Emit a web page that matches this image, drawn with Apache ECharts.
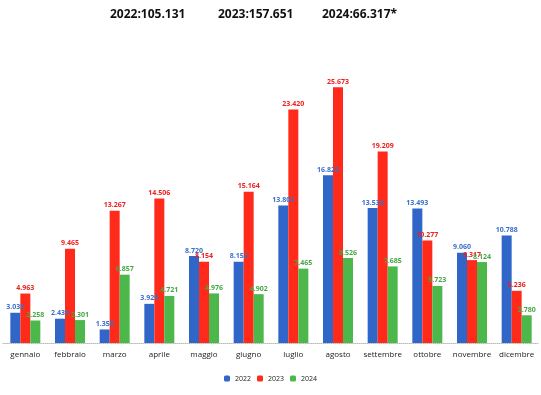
<!DOCTYPE html>
<html><head><meta charset="utf-8">
<script src="https://cdn.jsdelivr.net/npm/echarts@6/dist/echarts.min.js"></script>
<style>html,body{margin:0;padding:0;background:#fff}#c{width:541px;height:395px}</style>
</head><body><div id="c"></div>
<script>
const categories = ['gennaio','febbraio','marzo','aprile','maggio','giugno','luglio','agosto','settembre','ottobre','novembre','dicembre'];
const seriesNames = ['2022','2023','2024'];
const values2022 = [3035,2439,1358,3929,8720,8152,13802,16822,13533,13493,9060,10788];
const values2023 = [4963,9465,13267,14506,8154,15164,23420,25673,19209,10277,8317,5236];
const values2024 = [2258,2301,6857,4721,4976,4902,7465,8526,7685,5723,8124,2780];
const totals = ['2022:105.131','2023:157.651','2024:66.317*'];

const colors = ['#2f66c8','#ff2a1a','#4cb84c'];
const labelColors = ['#3a70cc','#ee2020','#45a845'];
const fmt = v => (v/1000).toFixed(3);
const chart = echarts.init(document.getElementById('c'));
const data = [values2022, values2023, values2024];
chart.setOption({
  animation:false,
  textStyle:{fontFamily:'Open Sans'},
  grid:{left:3,right:2,top:44,bottom:52},
  legend:{bottom:8,left:'center',itemWidth:6,itemHeight:6,itemGap:6,
    textStyle:{fontSize:7,color:'#222'},data:seriesNames},
  graphic: totals.map((t,i)=>({type:'text',left:[110,218,322][i],top:9,
    style:{text:t,font:'bold 12px "Open Sans"',fill:'#111'}})),
  xAxis:{type:'category',data:categories,
    axisLine:{lineStyle:{color:'#bbb',type:'dotted'}},axisTick:{show:false},
    axisLabel:{fontSize:8,color:'#222',margin:8,interval:0}},
  yAxis:{type:'value',min:0,max:30000,show:false,splitLine:{show:false}},
  series: seriesNames.map((n,i)=>({name:n,type:'bar',data:data[i],barWidth:10,barGap:'0%',
    itemStyle:{color:colors[i]},
    label:{show:true,position:'top',distance:2,fontSize:7,fontWeight:'bold',color:labelColors[i],
      formatter:p=>fmt(p.value)}}))
});
</script></body></html>
